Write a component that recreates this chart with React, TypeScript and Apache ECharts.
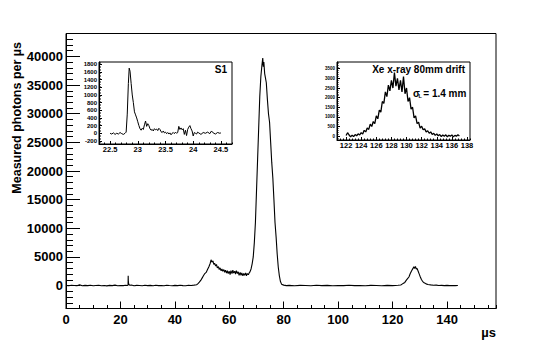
import React, { useEffect, useRef } from "react";
import * as echarts from "echarts";

const FONT = '"Liberation Sans", Arial, Helvetica, sans-serif';

// Main trace: drift time (µs) vs measured photons per µs
const mainX = [
  0, 1, 2, 3, 4, 5, 6, 7, 8, 9, 10, 11, 12, 13, 14, 15, 16, 17, 18, 19, 20, 21, 22, 22.5, 22.8, 22.85, 22.9, 23.0, 23.2, 23.5,
  24, 25, 26, 27, 28, 29, 30, 31, 32, 33, 34, 35, 36, 37, 38, 39, 40, 41, 42, 43, 44, 45, 46, 47, 48,
  48.5, 49, 49.5, 50, 50.5, 51, 51.5, 52, 52.5, 53, 53.3, 53.6, 54, 54.3, 54.6, 55, 55.3, 55.6, 56, 56.3, 56.6,
  57, 57.3, 57.6, 58, 58.3, 58.6, 59, 59.3, 59.6, 60, 60.3, 60.6, 61, 61.3, 61.6, 62, 62.3, 62.6, 63, 63.3, 63.6,
  64, 64.3, 64.6, 65, 65.3, 65.6, 66, 66.3, 66.6, 67, 67.3, 67.6, 68, 68.4, 68.8, 69.2, 69.6, 70, 70.4, 70.8,
  71.2, 71.6, 72, 72.3, 72.5, 72.7, 73, 73.3, 73.6, 74, 74.4, 74.8, 75.2, 75.6, 76, 76.4, 76.8, 77.2, 77.6, 78,
  78.4, 78.8, 79.2, 80, 81, 82, 84, 86, 88, 90, 92, 94, 96, 98, 100, 102, 104, 106, 108, 110, 112, 114, 116, 118,
  120, 122, 123, 123.5, 124, 124.5, 125, 125.5, 126, 126.5, 127, 127.5, 127.8, 128.1, 128.4, 128.7, 129, 129.4,
  129.8, 130.2, 130.6, 131, 131.4, 131.8, 132.3, 133, 134, 135, 136, 137, 138, 139, 140, 141, 142, 143, 144,
];
const mainY = [
  40, -30, 50, 10, -40, 120, -20, 30, -10, 60, -30, 20, 70, -20, 10, -50, 40, 0, 80, -30, 20, -10, 50, 0, 100, 1700, 900, 350, 150, 60,
  90, -30, 40, 10, -40, 60, 0, 30, -20, 70, -10, 20, -40, 50, 10, -20, 40, -10, 60, 0, -30, 50, 20, 80, 150,
  350, 600, 900, 1300, 1700, 2100, 2300, 2800, 3300, 3900, 4500, 4100, 4300, 3700, 3900, 3400, 3700, 3100, 3300, 2800, 3100,
  2600, 2900, 2500, 2800, 2300, 2700, 2200, 2600, 2100, 2500, 1900, 2600, 2100, 2700, 2200, 2500, 2000, 2600, 2100, 2400, 1800,
  2300, 1800, 2200, 1700, 2100, 1800, 2200, 1700, 2100, 1900, 2200, 2400, 2900, 3800, 5000, 7500, 11000, 16500, 22000, 27500,
  33000, 36500, 38500, 39700, 38200, 39000, 37000, 36200, 35400, 32500, 30000, 28500, 25000, 21500, 18800, 15000, 11000, 8500, 5500, 3200,
  1700, 700, 250, 80, 0, 30, -20, 40, 10, -30, 50, 0, 30, -20, 20, -10, 60, 0, 20, -30, 40, 10, -20, 30,
  0, 50, 100, 250, 400, 550, 900, 1200, 1500, 2100, 2600, 3000, 3300, 3000, 3350, 2900, 3000, 2500,
  2000, 1500, 1050, 750, 550, 450, 300, 200, 120, 60, 80, 20, 40, -10, 30, 0, 20, -10, 10,
];

// Inset "S1": zoom on the primary scintillation
const s1X = [
  22.5, 22.53, 22.56, 22.59, 22.62, 22.65, 22.68, 22.71, 22.74, 22.77, 22.79, 22.81, 22.83, 22.845, 22.86, 22.88,
  22.9, 22.92, 22.94, 22.96, 22.98, 23.0, 23.02, 23.04, 23.06, 23.08, 23.1, 23.12, 23.14, 23.16, 23.18, 23.2,
  23.22, 23.24, 23.26, 23.28, 23.3, 23.32, 23.34, 23.36, 23.38, 23.4, 23.42, 23.44, 23.46, 23.48, 23.5, 23.52,
  23.54, 23.56, 23.58, 23.6, 23.62, 23.64, 23.66, 23.68, 23.7, 23.72, 23.74, 23.76, 23.78, 23.8, 23.82, 23.84,
  23.86, 23.88, 23.9, 23.92, 23.94, 23.96, 23.98, 24.0, 24.02, 24.04, 24.06, 24.08, 24.1, 24.14, 24.18, 24.22,
  24.26, 24.3, 24.33, 24.36, 24.4, 24.44, 24.48, 24.5,
];
const s1Y = [
  0, -20, 10, -30, 0, -20, 20, -10, -30, 0, 30, 500, 1300, 1700, 1620, 1300,
  1000, 800, 560, 480, 400, 300, 200, 120, 80, 130, 100, 220, 320, 180, 250, 200,
  120, 80, 100, 60, 120, 90, 110, 70, 130, 100, 40, 20, 60, 10, 30, -10,
  20, -20, 10, -40, 0, 20, -10, 30, 0, 20, 180, 100, 140, 90, 120, -30,
  80, -60, 100, 160, 200, 120, 60, -70, 20, 0, -20, 30, 10, -30, 20, 0,
  30, -10, 60, 10, -20, 20, 0, 10,
];

// Inset "Xe x-ray 80mm drift"
const xeX = [
  122.0, 122.2, 122.4, 122.6, 122.8, 123.0, 123.2, 123.4, 123.6, 123.8, 124.0, 124.2, 124.4, 124.6, 124.8,
  125.0, 125.2, 125.4, 125.6, 125.8, 126.0, 126.2, 126.4, 126.6, 126.8, 127.0, 127.2, 127.4, 127.6, 127.8,
  128.0, 128.2, 128.4, 128.6, 128.8, 129.0, 129.2, 129.4, 129.6, 129.8, 130.0, 130.2, 130.4, 130.6, 130.8,
  131.0, 131.2, 131.4, 131.6, 131.8, 132.0, 132.2, 132.4, 132.6, 132.8, 133.0, 133.2, 133.4, 133.6, 133.8,
  134.0, 134.2, 134.4, 134.6, 134.8, 135.0, 135.2, 135.4, 135.6, 135.8, 136.0, 136.2, 136.4, 136.6, 136.8, 137.0,
];
const xeY = [
  30, 180, 60, -40, 50, -20, 80, 20, 120, 60, 180, 110, 300, 220, 420,
  350, 620, 500, 760, 650, 1050, 900, 1350, 1250, 1800, 1700, 2300, 2050, 2650, 2350,
  2900, 2500, 3300, 2600, 3000, 2400, 2900, 2300, 3100, 2200, 2500, 1800, 2000, 1400, 1500,
  950, 1050, 650, 720, 420, 520, 330, 380, 220, 280, 150, 220, 90, 150, 40,
  110, 20, 80, -20, 60, 0, 70, -30, 50, 0, 60, -40, 40, 0, 70, 10,
];

const pairs = (xs: number[], ys: number[]) => xs.map((x, i) => [x, ys[i]]);

const tickStyle = { color: "#000", width: 1 };

function majorAxis(kind: "x" | "y", grid: number, min: number, max: number, opts: any, label: any) {
  return {
    type: "value",
    gridIndex: grid,
    position: kind === "x" ? "bottom" : "left",
    min,
    max,
    ...opts,
    axisLine: { show: true, onZero: false, lineStyle: tickStyle },
    axisTick: { show: true, inside: true, length: label.tick, lineStyle: tickStyle },
    splitLine: { show: false },
    axisLabel: {
      show: true,
      color: "#000",
      fontFamily: FONT,
      fontWeight: "bold",
      fontSize: label.size,
      margin: label.margin,
      showMinLabel: label.showMin === true,
      showMaxLabel: false,
      formatter: (v: number) => String(v),
    },
  };
}
function minorAxis(kind: "x" | "y", grid: number, min: number, max: number, interval: number, len: number) {
  return {
    type: "value",
    gridIndex: grid,
    position: kind === "x" ? "bottom" : "left",
    min,
    max,
    interval,
    axisLine: { show: false, onZero: false },
    axisTick: { show: true, inside: true, length: len, lineStyle: tickStyle },
    splitLine: { show: false },
    axisLabel: { show: false },
  };
}

export default function App() {
  const ref = useRef<HTMLDivElement>(null);
  useEffect(() => {
    if (!ref.current) return;
    const chart = echarts.init(ref.current, null, { renderer: "svg" });
    const option: any = {
      animation: false,
      backgroundColor: "#fff",
      textStyle: { fontFamily: FONT },
      grid: [
        { left: 66, top: 33.5, width: 430, height: 275, show: true, borderColor: "#000", borderWidth: 1, backgroundColor: "transparent" },
        { left: 99, top: 62, width: 133, height: 82, show: true, borderColor: "#000", borderWidth: 1, backgroundColor: "#fff" },
        { left: 337, top: 62, width: 133, height: 78, show: true, borderColor: "#000", borderWidth: 1, backgroundColor: "#fff" },
      ],
      xAxis: [
        majorAxis("x", 0, 0, 158, { interval: 20 }, { size: 13, margin: 4, tick: 7, showMin: true }),
        minorAxis("x", 0, 0, 158, 5, 3.5),
        majorAxis("x", 1, 22.3, 24.7, { splitNumber: 5 }, { size: 7.5, margin: 1.5, tick: 3 }),
        minorAxis("x", 1, 22.3, 24.7, 0.1, 1.5),
        majorAxis("x", 2, 120.8, 138.4, { splitNumber: 8 }, { size: 7.5, margin: 1.5, tick: 3 }),
        minorAxis("x", 2, 120.8, 138.4, 0.4, 1.5),
      ],
      yAxis: [
        majorAxis("y", 0, -4000, 44000, { splitNumber: 10 }, { size: 13, margin: 3, tick: 14 }),
        minorAxis("y", 0, -4000, 44000, 1000, 7),
        majorAxis("y", 1, -280, 1860, { splitNumber: 10 }, { size: 6, margin: 2, tick: 3 }),
        minorAxis("y", 1, -280, 1860, 40, 1.5),
        majorAxis("y", 2, -200, 3850, { splitNumber: 8 }, { size: 4.5, margin: 2, tick: 3 }),
        minorAxis("y", 2, -200, 3850, 100, 1.5),
      ],
      series: [
        {
          type: "line", xAxisIndex: 0, yAxisIndex: 0, data: pairs(mainX, mainY),
          showSymbol: false, symbol: "none", lineStyle: { color: "#000", width: 1.1 }, z: 3,
        },
        {
          type: "line", xAxisIndex: 2, yAxisIndex: 2, data: pairs(s1X, s1Y),
          showSymbol: false, symbol: "none", lineStyle: { color: "#000", width: 1 }, z: 3,
        },
        {
          type: "line", xAxisIndex: 4, yAxisIndex: 4, data: pairs(xeX, xeY),
          showSymbol: false, symbol: "none", lineStyle: { color: "#000", width: 1.3 }, z: 3,
        },
      ],
      graphic: [
        {
          type: "text", x: 17, y: 42, rotation: Math.PI / 2,
          style: { text: "Measured photons per µs", fill: "#000", font: `bold 12.5px ${FONT}`, align: "right", verticalAlign: "middle" },
        },
        {
          type: "text", x: 496, y: 332,
          style: { text: "µs", fill: "#000", font: `bold 13px ${FONT}`, align: "right", verticalAlign: "middle" },
        },
        {
          type: "text", x: 227, y: 69.5, z: 10,
          style: { text: "S1", fill: "#000", font: `bold 10px ${FONT}`, align: "right", verticalAlign: "middle" },
        },
        {
          type: "text", x: 465, y: 69.5, z: 10,
          style: { text: "Xe x-ray 80mm drift", fill: "#000", font: `bold 10px ${FONT}`, align: "right", verticalAlign: "middle" },
        },
        {
          type: "text", x: 413, y: 93, z: 10,
          style: { text: "σ", fill: "#000", font: `bold 10px ${FONT}`, align: "left", verticalAlign: "middle" },
        },
        {
          type: "text", x: 418.5, y: 96, z: 10,
          style: { text: "L", fill: "#000", font: `bold 5.5px ${FONT}`, align: "left", verticalAlign: "middle" },
        },
        {
          type: "text", x: 423.3, y: 93, z: 10,
          style: { text: "= 1.4 mm", fill: "#000", font: `bold 10px ${FONT}`, align: "left", verticalAlign: "middle" },
        },
      ],
    };
    chart.setOption(option);
    return () => chart.dispose();
  }, []);
  return <div ref={ref} style={{ position: "fixed", left: 0, top: 0, width: 552, height: 344, background: "#fff" }} />;
}
